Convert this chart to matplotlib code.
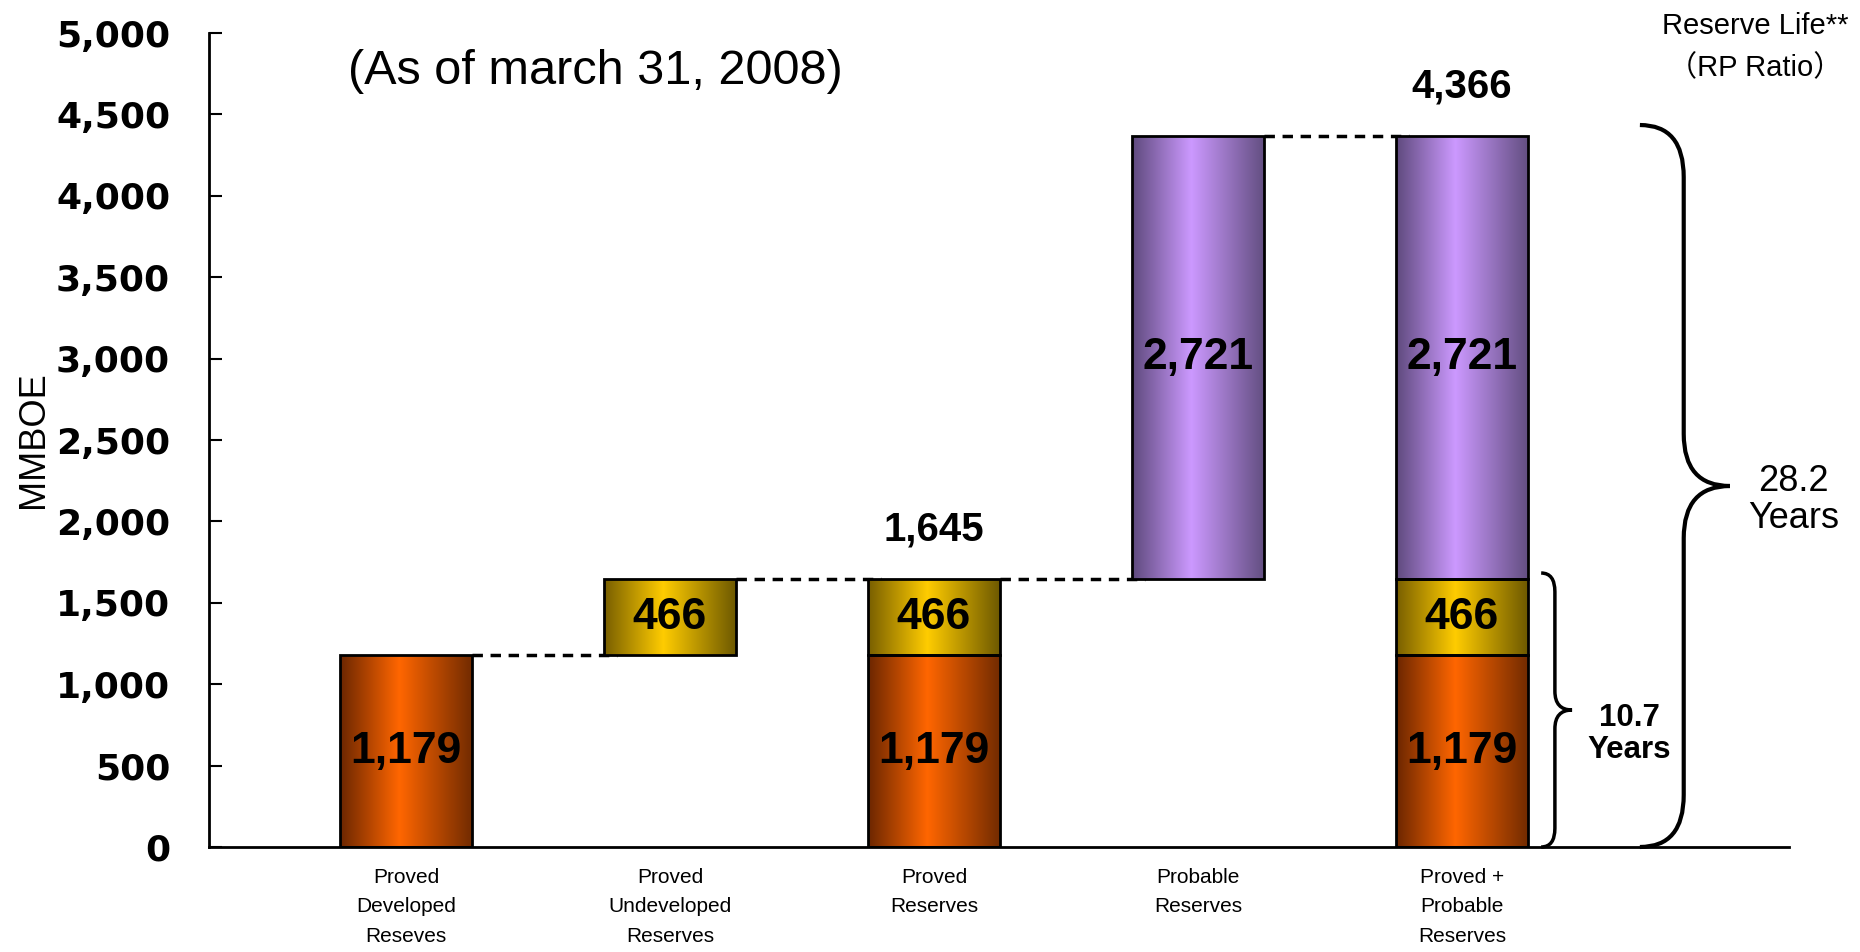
import numpy as np
import matplotlib
matplotlib.use('Agg')
import matplotlib.pyplot as plt
from matplotlib.patches import Rectangle, PathPatch
from matplotlib.path import Path

plt.rcParams['font.family'] = ['Liberation Sans', 'DejaVu Sans']

# data
categories = ['Proved\nDeveloped\nReseves', 'Proved\nUndeveloped\nReserves',
              'Proved\nReserves', 'Probable\nReserves', 'Proved +\nProbable\nReserves']
developed = 1179
undeveloped = 466
probable = 2721
proved_total = developed + undeveloped      # 1645
grand_total = proved_total + probable       # 4366
years_proved = 10.7
years_total = 28.2

# segments: (category index, bottom, height, kind)
segments = [
    (0, 0, developed, 'orange'),
    (1, developed, undeveloped, 'yellow'),
    (2, 0, developed, 'orange'),
    (2, developed, undeveloped, 'yellow'),
    (3, proved_total, probable, 'purple'),
    (4, 0, developed, 'orange'),
    (4, developed, undeveloped, 'yellow'),
    (4, proved_total, probable, 'purple'),
]
totals = {2: proved_total, 4: grand_total}
connectors = [(0, developed), (1, proved_total), (2, proved_total), (3, grand_total)]

grad = {
    'orange': [(0.42, 0.15, 0.0), (1.0, 0.40, 0.0), (0.45, 0.17, 0.0)],
    'yellow': [(0.47, 0.37, 0.0), (1.0, 0.80, 0.0), (0.43, 0.35, 0.0)],
    'purple': [(0.37, 0.29, 0.49), (0.80, 0.60, 1.0), (0.39, 0.31, 0.51)],
}

fig = plt.figure(figsize=(18.6, 9.52), dpi=100)
ax = fig.add_axes([0.1124, 0.1103, 0.962 - 0.1124, 0.9653 - 0.1103])

width = 0.5
u = np.linspace(0, 1, 256)
for i, b, h, kind in segments:
    c0, c1, c2 = [np.array(c) for c in grad[kind]]
    t1 = np.clip(u / 0.45, 0, 1)[:, None]
    t2 = np.clip((u - 0.45) / 0.55, 0, 1)[:, None]
    cols = np.where(u[:, None] <= 0.45, c0 + (c1 - c0) * t1, c1 + (c2 - c1) * t2)
    x0 = i - width / 2
    rect = Rectangle((x0, b), width, h, fc='none', ec='black', lw=2, zorder=3)
    ax.add_patch(rect)
    im = ax.imshow(cols[None, :, :], extent=(x0, x0 + width, b, b + h),
                   aspect='auto', zorder=2, interpolation='bilinear')
    im.set_clip_path(rect)
    ax.text(i, b + h / 2, f'{h:,}', ha='center', va='center', fontsize=32,
            fontweight='bold', zorder=4)

for i, tot in totals.items():
    ax.annotate(f'{tot:,}', (i, tot), xytext=(0, 36), textcoords='offset points',
                ha='center', va='center', fontsize=29, fontweight='bold')

for i, y in connectors:
    ax.plot([i + width / 2, i + 1 - width / 2 + 0.05], [y, y], color='black',
            lw=2.5, ls=(0, (3, 2.2)), zorder=1)


def brace(x_end, x_line, x_tip, y0, y1, ry, lw):
    ym = (y0 + y1) / 2
    verts = [(x_end, y1), (x_line, y1), (x_line, y1 - ry),
             (x_line, ym + ry), (x_line, ym), (x_tip, ym),
             (x_line, ym), (x_line, ym - ry),
             (x_line, y0 + ry), (x_line, y0), (x_end, y0)]
    codes = [Path.MOVETO, Path.CURVE3, Path.CURVE3,
             Path.LINETO, Path.CURVE3, Path.CURVE3,
             Path.CURVE3, Path.CURVE3,
             Path.LINETO, Path.CURVE3, Path.CURVE3]
    ax.add_patch(PathPatch(Path(verts, codes), fc='none', ec='black', lw=lw,
                           clip_on=False, zorder=5))


brace(4.674, 4.84, 5.015, 0, 4435, 320, 3)
brace(4.30, 4.352, 4.417, 0, 1683, 115, 2.5)

ax.text(5.255, 2131, f'{years_total}\nYears', ha='center', va='center',
        fontsize=26, linespacing=1.1)
ax.text(4.633, 694, f'{years_proved}\nYears', ha='center', va='center',
        fontsize=22.5, fontweight='bold', linespacing=1.05)

ax.set_xlim(-0.746, 5.24)
ax.set_ylim(0, 5000)
ax.set_yticks(np.arange(0, 5001, 500))
ax.set_yticklabels([f'{v:,}' for v in range(0, 5001, 500)],
                   fontfamily='DejaVu Sans', fontweight='bold', fontsize=26)
ax.tick_params(axis='y', direction='in', length=9, width=1.5, pad=28)
ax.set_xticks(range(len(categories)))
ax.set_xticklabels(categories, fontsize=15, linespacing=1.7, va='top')
ax.tick_params(axis='x', length=0, pad=15)
for s in ['top', 'right']:
    ax.spines[s].set_visible(False)
for s in ['left', 'bottom']:
    ax.spines[s].set_linewidth(2)

fig.text(33 / 1860, 0.538, 'MMBOE', rotation=90, ha='center', va='center', fontsize=26)
fig.text(595 / 1860, 1 - 71 / 952, '(As of march 31, 2008)', ha='center', va='center',
         fontsize=35)
fig.text(1755 / 1860, 1 - 26 / 952, 'Reserve Life**', ha='center', va='center',
         fontsize=21)
fig.text(1755 / 1860, 1 - 68 / 952, '（RP Ratio）', ha='center', va='center', fontsize=21,
         family=['Liberation Sans', 'Noto Sans CJK JP'])

fig.savefig('out.png', dpi=100)
